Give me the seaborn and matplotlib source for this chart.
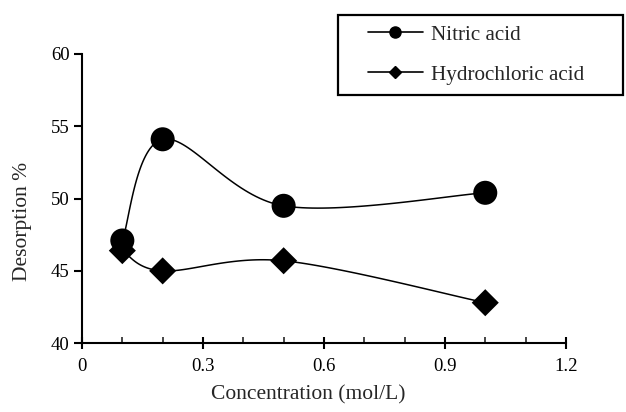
import numpy as np
import pandas as pd
import matplotlib
matplotlib.use("Agg")
import matplotlib.pyplot as plt
from matplotlib.lines import Line2D
from matplotlib.patches import Rectangle
import seaborn as sns

# Measured desorption vs. eluent concentration
concentration = [0.1, 0.2, 0.5, 1.0]
nitric = [47.1, 54.1, 49.5, 50.4]
hydrochloric = [46.4, 45.0, 45.7, 42.8]
series_names = ["Nitric acid", "Hydrochloric acid"]
x_ticks = [0, 0.3, 0.6, 0.9, 1.2]
x_tick_labels = ["0", "0.3", "0.6", "0.9", "1.2"]
y_ticks = [40, 45, 50, 55, 60]

sns.set_style("ticks")
plt.rcParams["font.family"] = ["Liberation Serif", "DejaVu Serif"]

W, H = 626, 412


def smooth_curve(x, y, n=40):
    """Cubic Bezier segments through the points (spreadsheet-style smoothing)."""
    p = np.column_stack([x, y]).astype(float)
    ext = np.vstack([p[0], p, p[-1]])
    out = []
    t = np.linspace(0, 1, n)[:, None]
    for i in range(len(p) - 1):
        p0, p1, p2, p3 = ext[i], ext[i + 1], ext[i + 2], ext[i + 3]
        c1 = p1 + (p2 - p0) / 6.0
        c2 = p2 - (p3 - p1) / 6.0
        seg = ((1 - t) ** 3) * p1 + 3 * ((1 - t) ** 2) * t * c1 + 3 * (1 - t) * t ** 2 * c2 + t ** 3 * p2
        out.append(seg if i == 0 else seg[1:])
    s = np.vstack(out)
    return s[:, 0], s[:, 1]


df = pd.DataFrame({
    "conc": concentration * 2,
    "desorption": nitric + hydrochloric,
    "acid": [series_names[0]] * 4 + [series_names[1]] * 4,
})

fig = plt.figure(figsize=(W / 100, H / 100), dpi=100)
ax = fig.add_axes([0.131, 0.167, 0.773, 0.702])

for vals in (nitric, hydrochloric):
    sx, sy = smooth_curve(concentration, vals)
    ax.plot(sx, sy, color="black", lw=1.1, zorder=2)

sns.scatterplot(data=df, x="conc", y="desorption", style="acid",
                markers={series_names[0]: "o", series_names[1]: "D"},
                size="acid", sizes={series_names[0]: 300, series_names[1]: 190},
                color="black", edgecolor="black", linewidth=0, legend=False,
                ax=ax, zorder=3)

ax.set_xlim(0, 1.2)
ax.set_ylim(40, 60)
ax.set_xticks(x_ticks)
ax.set_xticklabels(x_tick_labels)
ax.set_yticks(y_ticks)
ax.set_xticks(np.arange(0.1, 1.2, 0.1), minor=True)
ax.tick_params(axis="x", which="major", direction="inout", length=9, width=1.5,
               labelsize=13.5, pad=6, colors="black")
ax.tick_params(axis="x", which="minor", direction="in", length=4, width=1.2)
ax.tick_params(axis="y", which="major", direction="out", length=6, width=1.5,
               labelsize=13.5, pad=3, colors="black")

for side in ("top", "right"):
    ax.spines[side].set_visible(False)
for side in ("left", "bottom"):
    ax.spines[side].set_linewidth(1.5)
    ax.spines[side].set_color("black")

ax.set_xlabel("Concentration (mol/L)", fontsize=15.5)
ax.set_ylabel("Desorption %", fontsize=15.5)
ax.xaxis.set_label_coords(0.467, -0.145)
ax.yaxis.set_label_coords(-0.104, 0.42)

# Legend: boxed key in the upper right of the figure
fig.patches.append(Rectangle((338 / W, 1 - 95 / H), 285 / W, 80 / H,
                             transform=fig.transFigure, fill=False,
                             edgecolor="black", linewidth=1.6, zorder=5))
handles = [
    Line2D([0], [0], color="black", lw=1.2, marker="o", markersize=8),
    Line2D([0], [0], color="black", lw=1.2, marker="D", markersize=6),
]
fig.legend(handles, series_names, loc="upper left",
           bbox_to_anchor=(368 / W, 1 - 25 / H), fontsize=15.2,
           frameon=False, handlelength=2.6, borderpad=0, labelspacing=0.95,
           handletextpad=0.38, borderaxespad=0)

fig.savefig("out.png", dpi=100)
